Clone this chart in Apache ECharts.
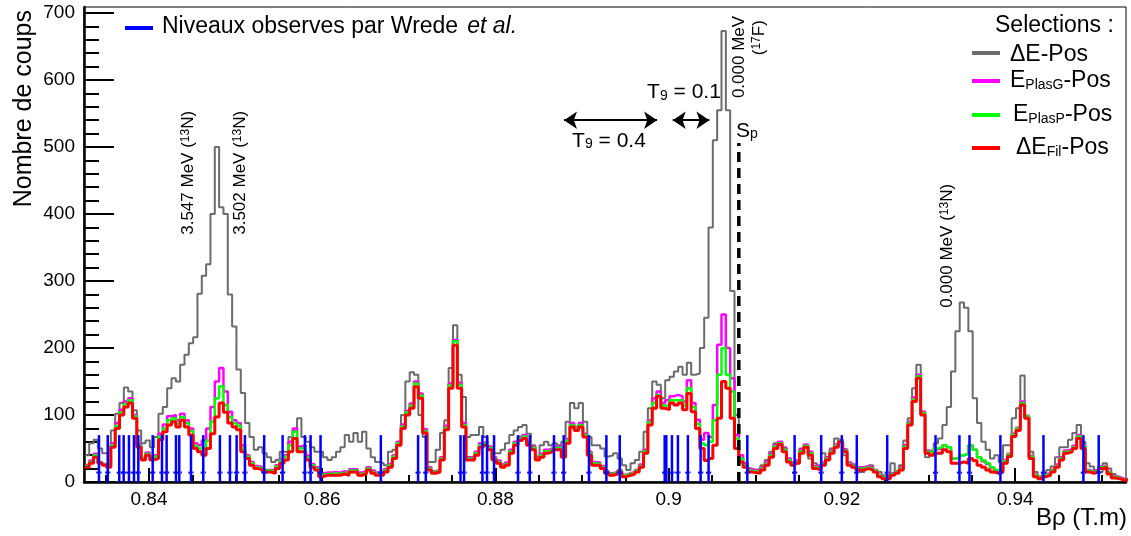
<!DOCTYPE html>
<html><head><meta charset="utf-8">
<script src="https://cdn.jsdelivr.net/npm/echarts@6/dist/echarts.min.js"></script>
<style>html,body{margin:0;padding:0;background:#fff}#c{width:1131px;height:536px}</style>
</head><body><div id="c"></div>
<script>
// ---- histogram binning (B rho, T.m) ----
const binStart = 0.8326;
const binWidth = 0.0005;

// ΔE-Pos (gray)
const dE = [
 40,58,63,50,43,43,77,102,118,141,
 135,107,77,58,62,52,67,102,112,140,
 155,150,175,190,207,216,281,308,325,400,
 500,410,400,280,232,168,133,88,67,48,
 52,43,37,30,33,45,45,67,77,95,
 67,60,52,45,45,37,33,37,45,52,
 70,60,73,60,75,50,37,30,28,25,
 45,48,58,100,150,164,160,100,67,30,
 30,48,73,92,170,234,160,127,67,70,
 70,82,67,50,43,43,48,58,70,77,
 82,85,72,55,38,55,60,55,58,55,
 60,90,118,110,118,90,67,55,55,50,
 38,40,43,35,25,18,28,33,45,75,
 110,150,145,125,152,157,165,172,160,178,
 160,162,200,245,380,510,555,673,555,285,
 100,35,22,20,18,20,25,33,45,58,
 60,52,35,28,28,50,55,35,28,25,
 43,37,50,65,62,40,28,22,18,15,
 22,25,15,15,10,10,28,15,25,62,
 95,140,175,105,37,45,58,65,85,112,
 165,225,268,260,225,125,88,60,48,35,
 40,30,55,55,95,110,159,95,45,15,
 8,10,18,23,37,52,52,63,73,85,
 60,28,23,18,15,28,20,12,8,4,
 3
];
// E_PlasG-Pos (magenta)
const plasG = [
 25,32,42,30,27,25,58,88,108,120,
 125,100,56,36,44,36,40,72,86,98,
 100,92,102,92,80,58,55,62,80,112,
 150,170,135,105,92,88,55,40,30,24,
 22,18,18,18,25,34,40,60,80,53,
 55,39,27,22,13,14,14,15,14,16,
 15,19,19,14,16,22,17,14,13,19,
 27,40,60,86,106,117,150,132,79,22,
 16,18,37,84,147,212,148,88,37,37,
 45,58,60,53,37,32,26,29,48,60,
 67,70,60,53,37,42,48,50,53,53,
 42,64,88,82,88,72,45,30,29,24,
 16,13,15,18,11,13,15,18,26,48,
 92,125,135,118,122,128,130,128,120,152,
 118,93,63,73,67,115,205,250,200,155,
 70,40,28,19,18,17,22,29,42,55,
 60,50,35,29,32,48,56,45,24,22,
 29,37,47,56,63,49,29,26,22,22,
 24,22,18,11,8,8,13,16,22,55,
 90,126,160,105,47,45,49,50,55,52,
 35,36,40,42,55,48,37,31,27,21,
 17,19,32,42,72,81,120,99,39,11,
 8,11,13,18,26,37,47,49,54,70,
 54,18,16,18,23,25,15,9,7,5,
 4
];
// E_PlasP-Pos (green)
const plasP = [
 24,30,40,29,26,24,55,84,104,116,
 122,98,54,35,42,35,38,68,80,92,
 95,87,97,88,76,54,50,50,62,90,
 125,143,115,97,88,84,50,38,28,22,
 20,17,17,16,23,32,38,55,75,50,
 52,37,25,20,11,12,12,13,12,14,
 13,17,17,12,14,20,15,12,12,17,
 25,38,58,83,104,114,147,129,76,20,
 15,17,35,81,144,210,145,85,35,35,
 43,55,58,51,35,30,24,27,46,58,
 65,68,58,51,35,40,46,48,51,51,
 40,62,85,80,85,70,43,28,27,22,
 15,12,14,17,10,12,14,17,24,46,
 90,118,130,114,114,122,122,122,114,140,
 112,87,58,55,60,92,160,200,160,135,
 65,35,25,17,16,15,20,27,40,53,
 58,48,33,27,30,46,54,43,22,20,
 27,35,45,54,62,47,27,24,20,20,
 22,20,17,10,7,7,12,15,20,53,
 88,123,158,103,45,44,50,52,55,52,
 35,36,40,42,55,48,37,32,28,22,
 18,18,31,41,71,80,118,98,38,10,
 7,10,12,17,24,35,45,47,52,68,
 53,17,15,17,22,24,14,8,6,4,
 3
];
// ΔE_Fil-Pos (red)
const fil = [
 22,28,37,28,25,22,52,80,100,112,
 118,95,52,33,40,33,35,63,75,85,
 90,82,92,82,70,50,45,40,50,72,
 97,118,104,88,82,78,45,35,25,20,
 18,15,15,13,20,28,33,45,65,45,
 45,33,22,18,8,10,10,10,10,12,
 10,15,15,10,12,18,13,10,10,15,
 22,35,55,80,100,110,142,125,73,18,
 13,15,33,78,140,204,140,82,33,33,
 40,52,55,48,33,28,22,25,43,55,
 62,65,55,48,33,37,43,45,48,48,
 37,58,82,77,82,67,40,25,25,20,
 13,10,12,15,8,10,12,15,22,43,
 85,110,128,110,108,118,115,118,108,132,
 105,80,50,32,35,55,95,150,140,95,
 50,30,22,15,14,13,18,25,37,50,
 56,45,30,25,28,43,52,40,20,18,
 25,33,43,52,60,45,25,22,18,18,
 20,18,15,8,5,5,10,13,18,50,
 85,120,155,100,43,40,43,43,48,45,
 28,28,30,28,35,32,25,22,18,15,
 13,15,28,38,68,77,115,95,35,8,
 5,8,10,15,22,33,43,45,50,65,
 50,15,13,15,20,22,12,6,5,3,
 3
];

// Levels observed by Wrede et al. (B rho positions)
const levels = [0.83423,0.83524,0.83657,0.83708,0.83769,0.83827,0.83877,0.84043,0.84150,0.84204,
 0.84312,0.84350,0.84485,0.84627,0.84819,0.84935,0.85012,0.85108,0.85330,0.85543,
 0.85800,0.85866,0.85981,0.86677,0.87107,0.87196,0.87597,0.87638,0.87850,0.87903,
 0.87984,0.88261,0.88396,0.88676,0.88788,0.89080,0.89281,0.89435,0.89954,0.89973,
 0.90038,0.90107,0.90222,0.90369,0.90461,0.90908,0.91454,0.91761,0.91999,0.92172,
 0.92523,0.93081,0.93357,0.93473,0.93830,0.94327,0.94788,0.94965];
const levelHeight = 70;
const levelErrY = 14;
const levelErr = 0.0003;

// Proton separation energy line
const spValue = 0.9081;
const spTop = 506;

// Gamow-window arrows [from, to, height]
const arrows = [[0.88792, 0.89866, 540], [0.90047, 0.90470, 540]];

// Axis ticks
const xMajor = [0.84, 0.86, 0.88, 0.90, 0.92, 0.94];
const xTickLabels = ['0.84', '0.86', '0.88', '0.9', '0.92', '0.94'];
const xMinor = [0.835,0.845,0.85,0.855,0.865,0.87,0.875,0.885,0.89,0.895,0.905,0.91,0.915,0.925,0.93,0.935,0.945,0.95];
const yMajor = [0,100,200,300,400,500,600,700];
const yMinor = [20,40,60,80,120,140,160,180,220,240,260,280,320,340,360,380,420,440,460,480,520,540,560,580,620,640,660,680];

// Annotations (data coordinates)
const annotations = [
 {x:0.8445, y:369, text:'{n|3.547 MeV (}{s|13}{n|N)}', rot:true},
 {x:0.8505, y:369, text:'{n|3.502 MeV (}{s|13}{n|N)}', rot:true},
 {x:0.9322, y:260, text:'{n|0.000 MeV (}{s|13}{n|N)}', rot:true},
 {x:0.9081, y:573, text:'{n|0.000 MeV}', rot:true},
 {x:0.9105, y:637, text:'{n|(}{s|17}{n|F)}', rot:true},
 {x:0.89751, y:597, text:'{m|T}{b|9}{m| = 0.1}', rot:false},
 {x:0.88885, y:525, text:'{m|T}{b|9}{m| = 0.4}', rot:false},
 {x:0.90778, y:540, text:'{m|S}{b|p}', rot:false}
];

const FONT = '"Liberation Sans", Arial, Helvetica, sans-serif';
const chart = echarts.init(document.getElementById('c'), null, {renderer:'canvas', width:1131, height:536});

function histData(vals){
  const d = vals.map((v,i)=>[binStart + i*binWidth, v]);
  d.push([binStart + vals.length*binWidth, vals[vals.length-1]]);
  return d;
}
function histSeries(name, vals, color, width, z){
  return {type:'line', name, data: histData(vals), step:'end', showSymbol:false, symbol:'none',
    lineStyle:{color, width}, z, silent:true, xAxisIndex:0, yAxisIndex:0, clip:true, animation:false};
}

const xMin = 0.8325, xMax = 0.9528, yMin = 0, yMax = 709;

chart.setOption({
  animation:false,
  backgroundColor:'#fff',
  grid:{left:84, right:5, top:7, bottom:54, show:true, borderColor:'#000', borderWidth:1, containLabel:false, outerBoundsMode:'none'},
  xAxis:[
    {type:'value', min:xMin, max:xMax, position:'bottom',
     axisLine:{show:true, onZero:false, lineStyle:{color:'#000', width:2.5}},
     axisTick:{show:true, inside:true, length:14, customValues:xMajor, lineStyle:{color:'#000', width:2}},
     axisLabel:{show:true, customValues:xMajor, margin:8, color:'#000', fontSize:19, fontFamily:FONT,
       formatter:(v)=>{ const k = xMajor.findIndex(m=>Math.abs(m-v)<1e-6); return k>=0 ? xTickLabels[k] : ''; }},
     splitLine:{show:false}},
    {type:'value', min:xMin, max:xMax, position:'bottom', gridIndex:0,
     axisLine:{show:false, onZero:false},
     axisTick:{show:true, inside:true, length:7, customValues:xMinor, lineStyle:{color:'#000', width:2}},
     axisLabel:{show:false}, splitLine:{show:false}}
  ],
  yAxis:[
    {type:'value', min:yMin, max:yMax, position:'left',
     axisLine:{show:true, onZero:false, lineStyle:{color:'#000', width:2.5}},
     axisTick:{show:true, inside:true, length:30, customValues:yMajor, lineStyle:{color:'#000', width:2}},
     axisLabel:{show:true, customValues:yMajor, margin:9, color:'#000', fontSize:19, fontFamily:FONT},
     splitLine:{show:false}},
    {type:'value', min:yMin, max:yMax, position:'left', gridIndex:0,
     axisLine:{show:false, onZero:false},
     axisTick:{show:true, inside:true, length:15, customValues:yMinor, lineStyle:{color:'#000', width:2}},
     axisLabel:{show:false}, splitLine:{show:false}}
  ],
  series:[
    histSeries('ΔE-Pos', dE, '#6b6b6b', 2, 2),
    histSeries('E_PlasG-Pos', plasG, '#ff00ff', 2.5, 3),
    histSeries('E_PlasP-Pos', plasP, '#00ff00', 2.5, 4),
    histSeries('ΔE_Fil-Pos', fil, '#ff0000', 3, 5),
    {type:'custom', name:'Wrede', xAxisIndex:0, yAxisIndex:0, z:6, silent:true, clip:true,
     data: levels.map(v=>[v, levelHeight]),
     renderItem:(params, api)=>{
       const x = api.value(0);
       const p0 = api.coord([x, 0]), p1 = api.coord([x, api.value(1)]);
       const e0 = api.coord([x - levelErr, levelErrY]), e1 = api.coord([x + levelErr, levelErrY]);
       return {type:'group', children:[
         {type:'line', shape:{x1:p0[0], y1:p0[1], x2:p1[0], y2:p1[1]}, style:{stroke:'#0000ff', lineWidth:2.5}},
         {type:'line', shape:{x1:e0[0], y1:e0[1], x2:e1[0], y2:e1[1]}, style:{stroke:'#0000ff', lineWidth:2, lineDash:[2,2]}}
       ]};
     }},
    {type:'line', name:'Sp', xAxisIndex:0, yAxisIndex:0, z:7, silent:true, showSymbol:false, symbol:'none',
     data:[[spValue, 0],[spValue, spTop]], lineStyle:{color:'#000', width:3.5, type:[10,6]}},
    {type:'lines', coordinateSystem:'cartesian2d', xAxisIndex:0, yAxisIndex:0, z:7, silent:true,
     symbol:['arrow','arrow'], symbolSize:13,
     lineStyle:{color:'#000', width:2, opacity:1},
     data: arrows.map(a=>({coords:[[a[0], a[2]], [a[1], a[2]]]}))}
  ]
});

const richAnn = {
  n:{fontSize:17, lineHeight:17, verticalAlign:'bottom', fontFamily:FONT, fill:'#000'},
  s:{fontSize:12, lineHeight:12, padding:[0,0,7,0], verticalAlign:'top', fontFamily:FONT, fill:'#000'},
  m:{fontSize:21, lineHeight:21, verticalAlign:'top', fontFamily:FONT, fill:'#000'},
  b:{fontSize:14, lineHeight:14, padding:[11,0,0,0], verticalAlign:'bottom', fontFamily:FONT, fill:'#000'}
};
const richLeg = {
  m:{fontSize:23, lineHeight:23, verticalAlign:'top', fontFamily:FONT, fill:'#000'},
  b:{fontSize:14, lineHeight:14, padding:[15,0,0,0], verticalAlign:'bottom', fontFamily:FONT, fill:'#000'},
  i:{fontSize:23, lineHeight:23, verticalAlign:'top', fontFamily:FONT, fontStyle:'italic', fill:'#000', padding:[0,0,0,9]}
};

const g = [];
annotations.forEach(a=>{
  const p = chart.convertToPixel({xAxisIndex:0, yAxisIndex:0}, [a.x, a.y]);
  if (a.rot) {
    g.push({type:'text', x:p[0], y:p[1], rotation:Math.PI/2, z:100,
      style:{text:a.text, rich:richAnn, align:'left', verticalAlign:'middle', fill:'#000', fontFamily:FONT, fontSize:17}});
  } else {
    g.push({type:'text', x:p[0], y:p[1], z:100,
      style:{text:a.text, rich:richAnn, align:'left', verticalAlign:'top', fill:'#000', fontFamily:FONT, fontSize:21}});
  }
});
// axis titles
g.push({type:'text', x:24, y:10, rotation:Math.PI/2, z:100,
  style:{text:'Nombre de coups', fontSize:25, fontFamily:FONT, fill:'#000', align:'right', verticalAlign:'middle'}});
g.push({type:'text', x:1127, y:518, z:100,
  style:{text:'Bρ (T.m)', fontSize:24, fontFamily:FONT, fill:'#000', align:'right', verticalAlign:'middle'}});
// top-left legend
g.push({type:'line', z:100, shape:{x1:125, y1:28, x2:153, y2:28}, style:{stroke:'#0000ff', lineWidth:4}});
g.push({type:'text', x:162, y:15, z:100, style:{text:'{m|Niveaux observes par Wrede}{i|et al.}', rich:richLeg, align:'left', verticalAlign:'top'}});
// right legend
g.push({type:'text', x:995, y:14, z:100, style:{text:'{m|Selections :}', rich:richLeg, align:'left', verticalAlign:'top'}});
const legItems = [
  {y:53, color:'#6b6b6b', text:'{m|ΔE-Pos}', tx:1010, ty:43},
  {y:81, color:'#ff00ff', text:'{m|E}{b|PlasG}{m|-Pos}', tx:1010, ty:69},
  {y:115, color:'#00ff00', text:'{m|E}{b|PlasP}{m|-Pos}', tx:1013, ty:103},
  {y:148, color:'#ff0000', text:'{m|ΔE}{b|Fil}{m|-Pos}', tx:1016, ty:136}
];
legItems.forEach(it=>{
  g.push({type:'line', z:100, shape:{x1:972, y1:it.y, x2:1000, y2:it.y}, style:{stroke:it.color, lineWidth:4}});
  g.push({type:'text', x:it.tx, y:it.ty, z:100, style:{text:it.text, rich:richLeg, align:'left', verticalAlign:'top'}});
});
chart.setOption({graphic:g});
</script>
</body></html>
